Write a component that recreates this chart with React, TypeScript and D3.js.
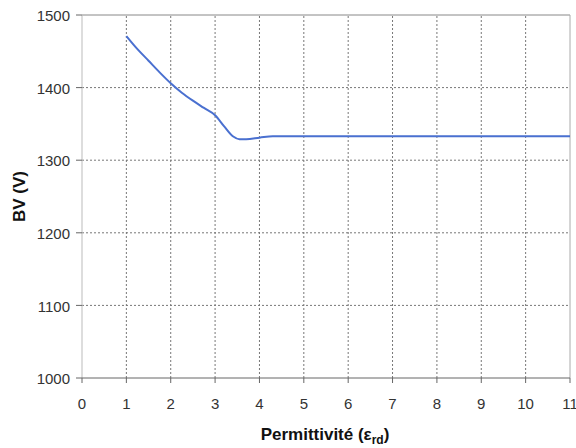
import * as d3 from 'd3';

// permittivité vs tension de claquage
const eps = [1, 1.25, 1.5, 1.75, 2, 2.25, 2.5, 2.75, 3, 3.2, 3.4, 3.55, 3.7, 4, 4.3, 5, 6, 7, 8, 9, 10, 11];
const bv = [1471, 1453, 1437, 1421, 1406, 1393, 1382, 1372, 1362, 1347, 1333, 1329, 1329, 1331, 1333, 1333, 1333, 1333, 1333, 1333, 1333, 1333];

const xTicks = [0, 1, 2, 3, 4, 5, 6, 7, 8, 9, 10, 11];
const yTicks = [1000, 1100, 1200, 1300, 1400, 1500];

const W = 576;
const H = 448;
const [mt, mr, mb, ml] = [15, 6, 70, 82];

export default function App() {
    const x = d3.scaleLinear().domain([0, 11]).range([ml, W - mr]);
    const y = d3.scaleLinear().domain([1000, 1500]).range([H - mb, mt]);

    const line = d3
        .line<number>()
        .curve(d3.curveMonotoneX)
        .x((_d, i) => x(eps[i]))
        .y((d) => y(d));

    const font = 'Liberation Sans, Arial, sans-serif';

    return (
        <svg width={W} height={H} style={{ position: 'absolute', left: 0, top: 0, background: '#fff' }} fontFamily={font}>
            {/* grille */}
            {xTicks.slice(1, -1).map((t) => (
                <line key={'gx' + t} x1={x(t)} x2={x(t)} y1={y(1000)} y2={y(1500)} stroke="#777" strokeDasharray="2,2" />
            ))}
            {yTicks.slice(1, -1).map((t) => (
                <line key={'gy' + t} x1={x(0)} x2={x(11)} y1={y(t)} y2={y(t)} stroke="#777" strokeDasharray="2,2" />
            ))}

            {/* cadre */}
            <line x1={x(0)} x2={x(11)} y1={y(1500)} y2={y(1500)} stroke="#888" />
            <line x1={x(11)} x2={x(11)} y1={y(1500)} y2={y(1000)} stroke="#aaa" />
            <line x1={x(0)} x2={x(0)} y1={y(1500)} y2={y(1000)} stroke="#bbb" />
            <line x1={x(0)} x2={x(11)} y1={y(1000)} y2={y(1000)} stroke="#666" />

            {/* ticks y */}
            {yTicks.map((t) => (
                <g key={'ty' + t}>
                    <line x1={x(0) - 6} x2={x(0)} y1={y(t)} y2={y(t)} stroke="#666" />
                    <text x={x(0) - 12} y={y(t) + 1} dy="0.35em" textAnchor="end" fontSize={15} fill="#333">
                        {t}
                    </text>
                </g>
            ))}

            {/* ticks x */}
            {xTicks.map((t) => (
                <g key={'tx' + t}>
                    <line x1={x(t)} x2={x(t)} y1={y(1000)} y2={y(1000) + 5} stroke="#666" />
                    <text x={x(t)} y={409} textAnchor="middle" fontSize={15} fill="#333">
                        {t}
                    </text>
                </g>
            ))}

            <path d={line(bv) ?? ''} fill="none" stroke="#4a70d0" strokeWidth={2} />

            <text transform={`translate(25, ${(mt + H - mb) / 2}) rotate(-90)`} textAnchor="middle" fontSize={17} fontWeight="bold" fill="#111">
                BV (V)
            </text>
            <text x={325} y={440} textAnchor="middle" fontSize={17} fontWeight="bold" fill="#111">
                Permittivité (ε
                <tspan fontSize={12} dy={4}>
                    rd
                </tspan>
                <tspan dy={-4}>)</tspan>
            </text>
        </svg>
    );
}
